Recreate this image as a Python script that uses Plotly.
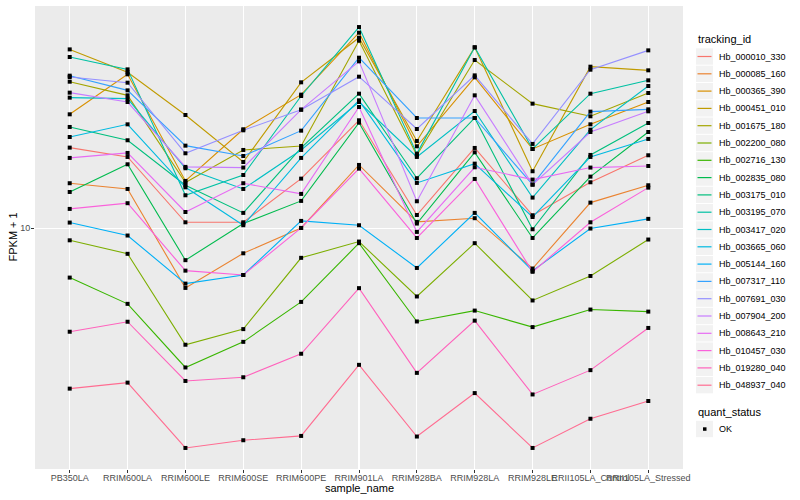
import math
import plotly.graph_objects as go

samples = ["PB350LA", "RRIM600LA", "RRIM600LE", "RRIM600SE", "RRIM600PE", "RRIM901LA",
           "RRIM928BA", "RRIM928LA", "RRIM928LE", "RRII105LA_Control", "RRII105LA_Stressed"]

tracking_ids = ["Hb_000010_330", "Hb_000085_160", "Hb_000365_390", "Hb_000451_010",
                "Hb_001675_180", "Hb_002200_080", "Hb_002716_130", "Hb_002835_080",
                "Hb_003175_010", "Hb_003195_070", "Hb_003417_020", "Hb_003665_060",
                "Hb_005144_160", "Hb_007317_110", "Hb_007691_030", "Hb_007904_200",
                "Hb_008643_210", "Hb_010457_030", "Hb_019280_040", "Hb_048937_040"]

hue_colors = ["#F8766D", "#EA8331", "#D89000", "#C09B00", "#A3A500", "#7CAE00", "#39B600",
              "#00BB4E", "#00BF7D", "#00C1A3", "#00BFC4", "#00BAE0", "#00B0F6", "#35A2FF",
              "#9590FF", "#C77CFF", "#E76BF3", "#FA62DB", "#FF62BC", "#FF6C91"]

# FPKM + 1 per sample (same order as samples)
hb_000010_330 = [17.46, 16.37, 10.42, 10.42, 14.09, 21.09, 10.96, 17.42, 10.94, 13.74, 16.56]
hb_000085_160 = [13.65, 13.12, 6.62, 8.41, 10.02, 15.49, 10.45, 10.72, 7.57, 11.94, 13.46]
hb_000365_390 = [21.98, 28.98, 13.87, 19.82, 25.18, 38.64, 17.62, 28.38, 17.30, 20.51, 23.93]
hb_000451_010 = [34.43, 29.38, 21.88, 15.81, 27.42, 37.33, 18.28, 34.92, 14.83, 30.55, 29.79]
hb_001675_180 = [27.54, 25.06, 13.71, 17.18, 17.66, 36.56, 16.56, 31.99, 23.66, 21.68, 25.47]
hb_002200_080 = [9.20, 8.38, 4.47, 4.98, 8.15, 9.12, 6.24, 9.02, 6.07, 7.19, 9.25]
hb_002716_130 = [7.11, 5.93, 3.82, 4.56, 6.01, 9.02, 5.25, 5.66, 5.05, 5.70, 5.62]
hb_002835_080 = [12.85, 15.56, 8.02, 10.33, 12.08, 20.75, 10.33, 16.90, 9.35, 14.29, 19.45]
hb_003175_010 = [20.14, 18.37, 13.46, 11.12, 17.42, 25.35, 14.13, 21.43, 9.93, 16.60, 20.70]
hb_003195_070 = [32.66, 29.99, 12.56, 14.45, 24.95, 40.18, 16.75, 34.92, 17.30, 25.35, 27.80]
hb_003417_020 = [24.66, 24.49, 15.14, 13.12, 17.18, 23.93, 16.37, 22.49, 12.36, 19.77, 26.73]
hb_003665_060 = [18.79, 20.51, 13.27, 10.21, 16.26, 24.21, 13.68, 15.63, 10.81, 16.37, 18.54]
hb_005144_160 = [10.40, 9.51, 6.82, 7.24, 10.52, 10.21, 7.60, 11.12, 7.45, 9.98, 10.67]
hb_007317_110 = [28.71, 25.94, 17.70, 16.48, 19.63, 32.51, 21.43, 21.43, 13.52, 22.39, 22.75]
hb_007691_030 = [28.44, 27.35, 16.79, 19.68, 22.70, 28.51, 19.86, 28.77, 17.91, 29.92, 34.20]
hb_007904_200 = [25.53, 23.93, 15.28, 15.21, 22.70, 31.70, 12.05, 25.06, 13.52, 19.45, 22.44]
hb_008643_210 = [16.26, 16.83, 11.19, 13.65, 12.68, 23.12, 9.75, 15.24, 14.00, 15.21, 15.38]
hb_010457_030 = [11.43, 11.89, 7.46, 7.24, 10.02, 15.10, 9.35, 14.06, 7.40, 10.42, 13.24]
hb_019280_040 = [4.89, 5.24, 3.48, 3.57, 4.20, 6.61, 3.68, 5.28, 3.17, 3.75, 5.02]
hb_048937_040 = [3.30, 3.44, 2.19, 2.31, 2.38, 3.89, 2.37, 3.20, 2.19, 2.68, 3.03]

series = [hb_000010_330, hb_000085_160, hb_000365_390, hb_000451_010, hb_001675_180,
          hb_002200_080, hb_002716_130, hb_002835_080, hb_003175_010, hb_003195_070,
          hb_003417_020, hb_003665_060, hb_005144_160, hb_007317_110, hb_007691_030,
          hb_007904_200, hb_008643_210, hb_010457_030, hb_019280_040, hb_048937_040]

quant_status = ["OK"]

FONT = "Liberation Sans, Arial, sans-serif"

# page geometry (pixels)
W, H = 800, 500
ML, MR, MT, MB = 35, 117, 6, 31
PW, PH = W - ML - MR, H - MT - MB


def px_x(px):
    return (px - ML) / PW


def px_y(py):
    return 1 - (py - MT) / PH


fig = go.Figure()
for name, col, vals in zip(tracking_ids, hue_colors, series):
    fig.add_trace(go.Scatter(
        x=samples, y=vals, mode="lines", name=name,
        line=dict(color=col, width=1.1), showlegend=False,
    ))

all_x, all_y = [], []
for vals in series:
    all_x += samples
    all_y += vals
fig.add_trace(go.Scatter(
    x=all_x, y=all_y, mode="markers", name=quant_status[0],
    marker=dict(symbol="square", size=4, color="black", line=dict(width=0)),
    showlegend=False,
))

lo = math.log10(min(all_y))
hi = math.log10(max(all_y))
pad = 0.05 * (hi - lo)

# ---- ggplot-style legends drawn as paper-anchored shapes/annotations ----
shapes, annotations = [], []
KEY_L, KEY_R, KEY_H = 696, 713, 17.3
TXT_X = 717
first_c = 56.5

annotations.append(dict(text="tracking_id", x=px_x(KEY_L), y=px_y(39), xref="paper", yref="paper",
                        xanchor="left", yanchor="middle", showarrow=False,
                        font=dict(size=11, color="black", family=FONT)))
for i, (name, col) in enumerate(zip(tracking_ids, hue_colors)):
    c = first_c + i * KEY_H
    shapes.append(dict(type="rect", xref="paper", yref="paper",
                       x0=px_x(KEY_L), x1=px_x(KEY_R), y0=px_y(c - KEY_H / 2 + 0.5), y1=px_y(c + KEY_H / 2 - 0.5),
                       fillcolor="#F2F2F2", line=dict(width=0), layer="above"))
    shapes.append(dict(type="line", xref="paper", yref="paper",
                       x0=px_x(KEY_L + 1.5), x1=px_x(KEY_R - 1.5), y0=px_y(c), y1=px_y(c),
                       line=dict(color=col, width=1.2), layer="above"))
    annotations.append(dict(text=name, x=px_x(TXT_X), y=px_y(c), xref="paper", yref="paper",
                            xanchor="left", yanchor="middle", showarrow=False,
                            font=dict(size=9, color="black", family=FONT)))

annotations.append(dict(text="quant_status", x=px_x(KEY_L), y=px_y(412), xref="paper", yref="paper",
                        xanchor="left", yanchor="middle", showarrow=False,
                        font=dict(size=11, color="black", family=FONT)))
c2 = 429
shapes.append(dict(type="rect", xref="paper", yref="paper",
                   x0=px_x(KEY_L), x1=px_x(KEY_R), y0=px_y(c2 - KEY_H / 2 + 0.5), y1=px_y(c2 + KEY_H / 2 - 0.5),
                   fillcolor="#F2F2F2", line=dict(width=0), layer="above"))
shapes.append(dict(type="rect", xref="paper", yref="paper",
                   x0=px_x(703), x1=px_x(706.5), y0=px_y(427.3), y1=px_y(430.8),
                   fillcolor="black", line=dict(width=0), layer="above"))
annotations.append(dict(text=quant_status[0], x=px_x(TXT_X), y=px_y(c2), xref="paper", yref="paper",
                        xanchor="left", yanchor="middle", showarrow=False,
                        font=dict(size=9, color="black", family=FONT)))

# axis titles
annotations.append(dict(text="sample_name", x=0.5, y=px_y(488), xref="paper", yref="paper",
                        xanchor="center", yanchor="middle", showarrow=False,
                        font=dict(size=11, color="black", family=FONT)))
annotations.append(dict(text="FPKM + 1", x=px_x(12), y=0.5, xref="paper", yref="paper",
                        xanchor="center", yanchor="middle", showarrow=False, textangle=-90,
                        font=dict(size=11, color="black", family=FONT)))

fig.update_layout(
    width=W, height=H,
    margin=dict(l=ML, r=MR, t=MT, b=MB, autoexpand=False),
    paper_bgcolor="white",
    plot_bgcolor="#EBEBEB",
    font=dict(family=FONT, color="black"),
    showlegend=False,
    hovermode=False,
    shapes=shapes,
    annotations=annotations,
    xaxis=dict(
        type="category", categoryorder="array", categoryarray=samples,
        range=[-0.6, len(samples) - 0.4],
        showgrid=True, gridcolor="white", gridwidth=1.1,
        zeroline=False, showline=False,
        ticks="outside", ticklen=3, tickcolor="#333333", tickwidth=1,
        tickangle=0, ticklabelstandoff=-3,
        tickfont=dict(size=9, color="#4D4D4D", family=FONT),
        automargin=False,
    ),
    yaxis=dict(
        type="log",
        range=[lo - pad, hi + pad],
        tickvals=[10], ticktext=["10"],
        showgrid=True, gridcolor="white", gridwidth=1.1,
        zeroline=False, showline=False,
        ticks="outside", ticklen=3, tickcolor="#333333", tickwidth=1,
        ticklabelstandoff=-1,
        tickfont=dict(size=9, color="#4D4D4D", family=FONT),
        automargin=False,
    ),
)

fig.write_html("out.html",
               config={"displayModeBar": False, "staticPlot": True},
               post_script="document.body.style.margin='0';document.body.style.overflow='hidden';")
